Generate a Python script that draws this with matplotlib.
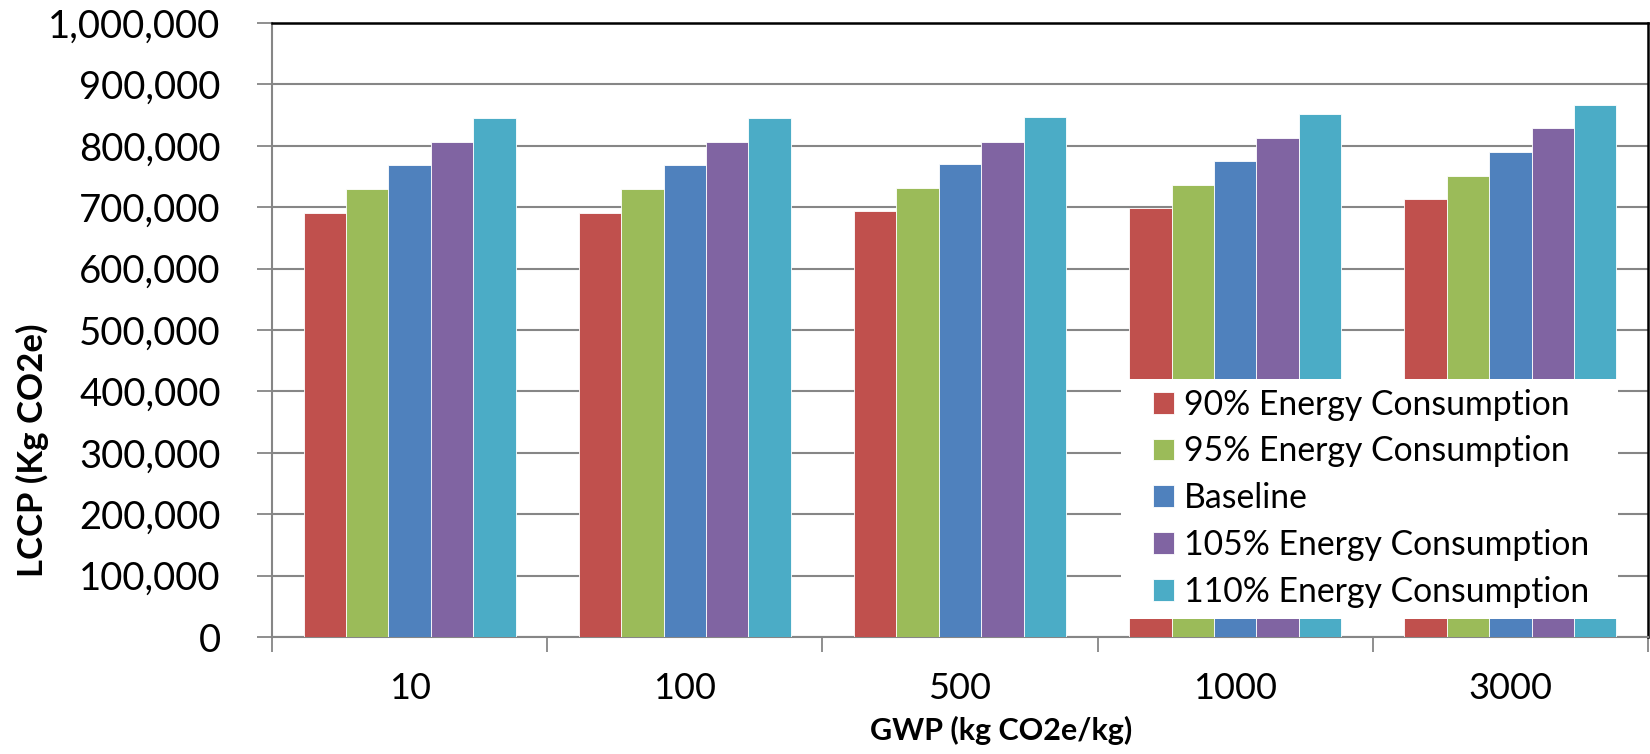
import matplotlib
matplotlib.use("Agg")
import matplotlib.pyplot as plt
import matplotlib.ticker as mticker
from matplotlib.patches import Rectangle
import numpy as np

plt.rcParams['font.family'] = ['Lato', 'DejaVu Sans']

# GWP categories and LCCP values (kg CO2e)
gwp = ['10', '100', '500', '1000', '3000']
series = ['90% Energy Consumption', '95% Energy Consumption', 'Baseline',
          '105% Energy Consumption', '110% Energy Consumption']
e90 = [691000, 691000, 694000, 699000, 714000]
e95 = [729000, 730000, 732000, 736000, 751000]
base = [768000, 768000, 771000, 775000, 790000]
e105 = [806000, 807000, 806000, 812000, 829000]
e110 = [845000, 845000, 847000, 851000, 867000]
colors = ['#C0504D', '#9BBB59', '#4F81BD', '#8064A2', '#4BACC6']

fig = plt.figure(figsize=(16.5, 7.54), dpi=100)
ax = fig.add_axes([272/1650, 117/754, 1376/1650, 614/754])

x = np.arange(len(gwp))
w = 0.154
for i, (vals, lab, c) in enumerate(zip([e90, e95, base, e105, e110], series, colors)):
    ax.bar(x + (i - 2) * w, vals, w, color=c, label=lab,
           edgecolor='white', linewidth=0.6, zorder=3)

ax.set_xlim(-0.5, 4.5)
ax.set_ylim(0, 1000000)
ax.yaxis.set_major_locator(mticker.MultipleLocator(100000))
ax.yaxis.set_major_formatter(mticker.FuncFormatter(lambda v, p: f'{int(v):,}'))
ax.grid(axis='y', color='#868686', linewidth=1.5, zorder=0)

# category boundaries as major ticks, labels on minor ticks
ax.set_xticks(np.arange(-0.5, 5, 1))
ax.set_xticklabels([])
ax.set_xticks(x, minor=True)
ax.set_xticklabels(gwp, minor=True, fontsize=26)
ax.tick_params(axis='x', which='major', length=11, width=1.3, color='#868686')
ax.tick_params(axis='x', which='minor', length=0, pad=25)
ax.tick_params(axis='y', length=11, width=1.3, color='#868686', labelsize=27.5, pad=26)

for s in ['left', 'bottom']:
    ax.spines[s].set_color('#868686')
    ax.spines[s].set_linewidth(1.5)
for s in ['top', 'right']:
    ax.spines[s].set_color('black')
    ax.spines[s].set_linewidth(1.8)

# white legend panel over the bars
ax.add_patch(Rectangle((0.617, 0.0293), 0.361, 0.3907, transform=ax.transAxes,
                       facecolor='white', edgecolor='none', zorder=4))
leg = ax.legend(loc='center left', bbox_to_anchor=(0.640, 0.226), borderaxespad=0,
                borderpad=0, fontsize=24.3, frameon=False,
                handlelength=0.62, handleheight=0.62,
                handletextpad=0.32, labelspacing=0.44)
leg.set_zorder(5)

fig.text(32/1650, 1 - 450/754, 'LCCP (Kg CO2e)', rotation=90, fontsize=25,
         fontweight='bold', ha='center', va='center')
fig.text(1001/1650, 1 - 730/754, 'GWP (kg CO2e/kg)', fontsize=22,
         fontweight='bold', ha='center', va='center')

fig.savefig('out.png', dpi=100)
